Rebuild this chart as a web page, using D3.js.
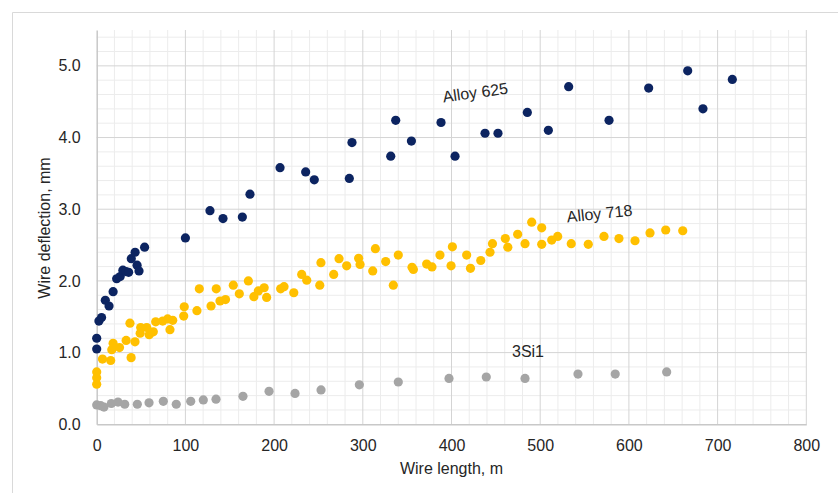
<!DOCTYPE html>
<html>
<head>
<meta charset="utf-8">
<script src="https://cdn.jsdelivr.net/npm/d3@7"></script>
<style>
  body { margin: 0; background: #fff; }
  text { font-family: "Liberation Sans", Arial, sans-serif; fill: #262626; }
</style>
</head>
<body>
<script>
const width = 838, height = 493;

// Wire length (m), deflection (mm)
const alloy625 = [
    [0, 1.05], [0, 1.20], [2.5, 1.44], [5.5, 1.49], [9.7, 1.73], [13.9, 1.65], [18.5, 1.85],
    [22.5, 2.03], [26.5, 2.06], [29.5, 2.15], [33, 2.13], [36, 2.12], [39, 2.31], [43.3, 2.40],
    [45.5, 2.22], [47.7, 2.14], [54, 2.47], [100, 2.60], [127.7, 2.98], [142.4, 2.87],
    [164.2, 2.89], [172.8, 3.21], [206.7, 3.58], [235.6, 3.52], [245.3, 3.41], [284.8, 3.43],
    [287.8, 3.93], [331.5, 3.74], [337.1, 4.24], [354.8, 3.95], [388.2, 4.21], [404, 3.74],
    [437.8, 4.06], [452.4, 4.06], [485.5, 4.35], [509.2, 4.10], [532.1, 4.71], [577.6, 4.24],
    [622.3, 4.69], [666.3, 4.93], [683.5, 4.40], [716.6, 4.81]
];

const alloy718 = [
    [0, 0.56], [0, 0.65], [0, 0.73], [6.5, 0.91], [15.8, 0.89], [17, 1.04], [18.5, 1.13],
    [25.7, 1.07], [33.2, 1.17], [38.8, 0.93], [37.5, 1.41], [43.2, 1.15], [49, 1.27],
    [49.6, 1.35], [56.4, 1.35], [59.2, 1.25], [63.8, 1.29], [66.5, 1.43], [74.4, 1.44],
    [80, 1.47], [82.6, 1.32], [85.7, 1.45], [98.1, 1.51], [98.7, 1.64], [113, 1.585],
    [115.7, 1.89], [128.9, 1.65], [134.8, 1.89], [139, 1.72], [145.2, 1.74], [154, 1.94],
    [160.8, 1.82], [171, 2.00], [177.2, 1.78], [182.2, 1.86], [188.8, 1.905], [191.6, 1.77],
    [207.4, 1.89], [211.2, 1.92], [222.2, 1.835], [231.1, 2.09], [236.8, 2.01], [251.5, 1.94],
    [252.8, 2.255], [267.2, 2.09], [273.2, 2.31], [281.8, 2.21], [295.3, 2.315], [296.9, 2.23],
    [311.2, 2.14], [314.2, 2.45], [325.8, 2.27], [334.4, 1.94], [340, 2.36], [355.5, 2.19],
    [357, 2.16], [372, 2.235], [378, 2.195], [387, 2.36], [399.5, 2.21], [401, 2.475],
    [417.1, 2.36], [421.4, 2.175], [433, 2.285], [443.4, 2.40], [446.2, 2.52], [460.7, 2.59],
    [463.5, 2.47], [474.6, 2.65], [482.9, 2.52], [490.4, 2.82], [501.7, 2.74], [501.7, 2.51],
    [513, 2.57], [519.7, 2.62], [535, 2.52], [554.2, 2.51], [571.9, 2.62], [588.8, 2.59],
    [606.9, 2.56], [623.8, 2.67], [641.5, 2.71], [660.7, 2.70]
];

const si3 = [
    [0, 0.27], [4.5, 0.26], [8.2, 0.24], [16.5, 0.29], [24, 0.31], [31.6, 0.28], [45.8, 0.28],
    [59, 0.30], [75.1, 0.32], [89.7, 0.28], [106, 0.32], [120.2, 0.34], [134.5, 0.35],
    [164.9, 0.39], [194.3, 0.46], [223.6, 0.43], [252.9, 0.48], [296.1, 0.55], [340, 0.59],
    [397.2, 0.64], [439.2, 0.66], [482.9, 0.64], [542.6, 0.70], [584.6, 0.70], [642.6, 0.73]
];

const xTicks = [0, 100, 200, 300, 400, 500, 600, 700, 800];
const yTicks = [0, 1, 2, 3, 4, 5];

const series = [
    { name: "3Si1", data: si3, color: "#a5a5a5" },
    { name: "Alloy 718", data: alloy718, color: "#ffc000" },
    { name: "Alloy 625", data: alloy625, color: "#0c2461" }
];

// series labels sit in the plot, a little rotated like the original
const labels = [
    { text: "Alloy 625", x: 476, y: 98, angle: -8 },
    { text: "Alloy 718", x: 600, y: 219, angle: -6 },
    { text: "3Si1", x: 528, y: 357, angle: 0 }
];

const svg = d3.select("body").append("svg")
    .attr("width", width)
    .attr("height", height);

// chart area frame (cut off at right and bottom)
svg.append("path")
    .attr("d", `M12.5,${height} V12.5 H${width}`)
    .attr("fill", "none")
    .attr("stroke", "#d9d9d9");

const x = d3.scaleLinear().domain([0, 800]).range([96.7, 806.3]);
const y = d3.scaleLinear().domain([0, 5.5]).range([424.3, 30]);

// minor grid
const grid = svg.append("g");
grid.selectAll(".vminor")
    .data(d3.range(20, 800, 20).filter(v => v % 100 !== 0))
    .enter().append("line")
    .attr("x1", d => x(d)).attr("x2", d => x(d))
    .attr("y1", y(0)).attr("y2", y(5.5))
    .attr("stroke", "#ececec");
grid.selectAll(".hminor")
    .data(d3.range(1, 28).map(i => i * 0.2).filter(v => Math.abs(v - Math.round(v)) > 0.01))
    .enter().append("line")
    .attr("x1", x(0)).attr("x2", x(800))
    .attr("y1", d => y(d)).attr("y2", d => y(d))
    .attr("stroke", "#ececec");

// major grid
grid.selectAll(".vmajor")
    .data(xTicks.slice(1))
    .enter().append("line")
    .attr("x1", d => x(d)).attr("x2", d => x(d))
    .attr("y1", y(0)).attr("y2", y(5.5))
    .attr("stroke", "#d4d4d4");
grid.selectAll(".hmajor")
    .data(yTicks.slice(1))
    .enter().append("line")
    .attr("x1", x(0)).attr("x2", x(800))
    .attr("y1", d => y(d)).attr("y2", d => y(d))
    .attr("stroke", "#d4d4d4");

// axes
const xAxis = svg.append("g")
    .attr("transform", `translate(0,${y(0)})`)
    .call(d3.axisBottom(x).tickValues(xTicks).tickSize(0).tickPadding(15).tickFormat(d3.format("d")));
const yAxis = svg.append("g")
    .attr("transform", `translate(${x(0)},0)`)
    .call(d3.axisLeft(y).tickValues(yTicks).tickSize(0).tickPadding(16).tickFormat(d3.format(".1f")));

[xAxis, yAxis].forEach(a => {
    a.select(".domain").attr("stroke", "#c8c8c8").attr("stroke-width", 1.5);
    a.selectAll("text")
        .attr("font-family", "'Liberation Sans', Arial, sans-serif")
        .attr("font-size", 16)
        .attr("fill", "#262626");
});

// axis titles
svg.append("text")
    .attr("x", (x(0) + x(800)) / 2)
    .attr("y", 474)
    .attr("text-anchor", "middle")
    .attr("font-size", 16)
    .text("Wire length,  m");

svg.append("text")
    .attr("transform", `translate(50,228) rotate(-90)`)
    .attr("text-anchor", "middle")
    .attr("font-size", 16)
    .text("Wire deflection,  mm");

// points
series.forEach(s => {
    svg.append("g").selectAll("circle")
        .data(s.data)
        .enter().append("circle")
        .attr("cx", d => x(d[0]))
        .attr("cy", d => y(d[1]))
        .attr("r", 4.6)
        .attr("fill", s.color);
});

// series labels
svg.selectAll(".series-label")
    .data(labels)
    .enter().append("text")
    .attr("class", "series-label")
    .attr("transform", d => `translate(${d.x},${d.y}) rotate(${d.angle})`)
    .attr("text-anchor", "middle")
    .attr("font-size", 16)
    .text(d => d.text);
</script>
</body>
</html>
